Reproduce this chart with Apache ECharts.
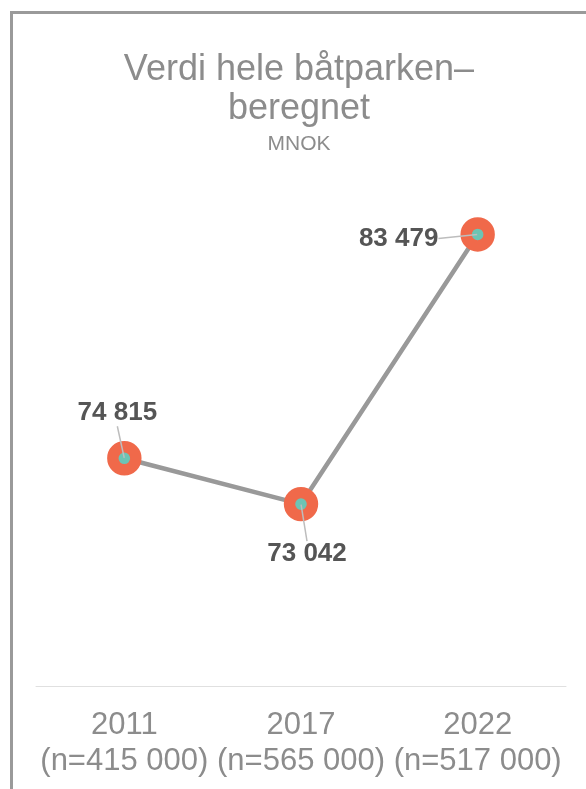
<!DOCTYPE html>
<html>
<head>
<meta charset="utf-8">
<script src="https://cdn.jsdelivr.net/npm/echarts@6/dist/echarts.min.js"></script>
<style>
  html, body { margin: 0; padding: 0; background: #fff; }
  #root { width: 586px; height: 789px; }
</style>
</head>
<body>
<div id="root"></div>
<script>
// data
const years = ['2011', '2017', '2022']
const sampleSizes = ['415 000', '565 000', '517 000']
const values = [74815, 73042, 83479]
// label offsets from point (px)
const labelShift = [[-7, -45], [6, 50], [-79, 4]]

const fmt = v => String(v).replace(/\B(?=(\d{3})+(?!\d))/g, ' ')

const chart = echarts.init(document.getElementById('root'), null, { renderer: 'canvas' })

chart.setOption({
  backgroundColor: '#fff',
  animation: false,
  textStyle: { fontFamily: 'Liberation Sans, Arial, sans-serif' },
  title: {
    text: 'Verdi hele båtparken–\nberegnet',
    subtext: 'MNOK',
    left: 294,
    top: 46,
    textAlign: 'center',
    itemGap: 3,
    textStyle: { color: '#8c8c8c', fontSize: 36, fontWeight: 'normal', lineHeight: 39 },
    subtextStyle: { color: '#8c8c8c', fontSize: 21, lineHeight: 24 }
  },
  graphic: [{
    type: 'rect',
    shape: { x: 11.5, y: 12.5, width: 700, height: 900 },
    style: { fill: 'none', stroke: '#9a9a9a', lineWidth: 3 },
    silent: true
  }],
  grid: { left: 36, right: 20, top: 66, bottom: 103 },
  xAxis: {
    type: 'category',
    data: years.map((y, i) => y + '\n(n=' + sampleSizes[i] + ')'),
    boundaryGap: true,
    axisLine: { lineStyle: { color: '#e0e0e0', width: 1 } },
    axisTick: { show: false },
    axisLabel: { color: '#8c8c8c', fontSize: 31, lineHeight: 36, margin: 21, interval: 0 }
  },
  yAxis: {
    type: 'value',
    min: 66000,
    max: 90000,
    show: false,
    splitLine: { show: false }
  },
  series: [{
    type: 'line',
    data: values,
    symbol: 'circle',
    symbolSize: 23,
    lineStyle: { color: '#999', width: 4.5 },
    itemStyle: { color: '#6cc4b4', borderColor: '#f0694a', borderWidth: 11.4 },
    emphasis: { disabled: true },
    z: 2
  }, {
    // value labels with leader lines to the point centre
    type: 'scatter',
    data: values,
    symbol: 'circle',
    symbolSize: 1,
    itemStyle: { color: 'rgba(0,0,0,0)', opacity: 1 },
    label: {
      show: true,
      position: 'inside',
      formatter: p => fmt(p.value),
      color: '#555',
      fontSize: 26,
      fontWeight: 'bold'
    },
    labelLine: { show: true, lineStyle: { color: '#bdbdbd', width: 1.5 } },
    labelLayout: p => ({ dx: labelShift[p.dataIndex][0], dy: labelShift[p.dataIndex][1] }),
    emphasis: { disabled: true },
    z: 5
  }]
})
</script>
</body>
</html>
